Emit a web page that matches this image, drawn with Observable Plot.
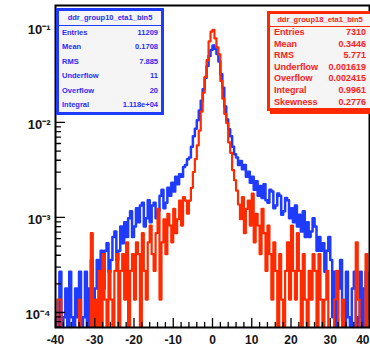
<!DOCTYPE html>
<html><head><meta charset="utf-8">
<script src="https://cdn.jsdelivr.net/npm/d3@7"></script>
<script src="https://cdn.jsdelivr.net/npm/@observablehq/plot@0.6"></script>
<style>
body{margin:0;overflow:hidden;background:#fff;}
#wrap{position:relative;width:370px;height:350px;overflow:hidden;font-family:"Liberation Sans",Arial,sans-serif;}
.stat{position:absolute;box-sizing:border-box;background:#f5f5f5;font-weight:bold;white-space:nowrap;overflow:hidden;}
.stat .ttl{text-align:center;overflow:hidden;}
.stat .row{display:flex;justify-content:space-between;}
</style></head><body><div id="wrap"></div><script>
// ---- data ----
const xLow = -40, binWidth = 0.5;           // histogram binning (160 bins, -40..40)
const blueEntries = 11209, redEntries = 7310;
// counts per 0.5-wide bin, left to right (two bins per unit from -40 to 39)
const blueCounts = [
 1,0, 3,0, 1,2, 0,3, 1,0, 2,1, 3,0, 1,3, 0,2, 4,1,
 2,4, 1,5, 2,5, 6,3, 4,7, 8,4, 5,9, 6,10, 7,11, 13,7,
 9,14, 10,15, 16,9, 11,17, 10,15, 16,11, 13,19, 22,14, 16,23, 19,26,
 21,30, 25,32, 30,38, 40,46, 48,62, 80,96, 118,150, 190,250, 330,440, 560,650,
 725,670, 590,490, 360,260, 165,120, 95,80, 62,52, 48,40, 44,36, 40,30, 34,26,
 30,22, 27,19, 24,18, 25,17, 16,22, 21,14, 15,20, 19,12, 13,18, 17,11,
 14,10, 15,9, 12,8, 13,7, 10,7, 8,11, 9,5, 7,5, 6,3, 5,7,
 4,1, 3,0, 2,4, 1,0, 3,1, 0,2, 3,0, 1,3, 0,2, 3,1
];
const redCounts = [
 0,1, 1,0, 0,0, 0,0, 0,0, 0,0, 1,0, 0,0, 0,0, 5,0,
 1,0, 2,0, 3,1, 0,2, 1,0, 2,3, 0,2, 3,1, 4,0, 2,3,
 1,4, 3,0, 5,2, 1,4, 6,3, 2,5, 9,1, 4,7, 3,8, 6,4,
 9,5, 7,11, 6,12, 11,8, 11,15, 22,30, 42,60, 95,150, 220,330, 520,660,
 690,560, 450,380, 200,130, 90,72, 45,35, 23,18, 14,10, 7,12, 5,9, 11,6,
 13,4, 8,6, 3,9, 5,2, 6,3, 1,4, 2,0, 3,1, 0,2, 4,1,
 6,2, 1,5, 2,0, 3,1, 0,2, 1,3, 2,0, 3,1, 0,1, 2,0,
 0,0, 1,2, 0,0, 1,0, 0,0, 0,0, 0,4, 1,0, 0,0, 3,0
];
const xTickValues = [-40,-30,-20,-10,0,10,20,30,40];
const xTickLabels = ["-40","-30","-20","-10","0","10","20","30","40"];
const yTickValues = [1e-4,1e-3,1e-2,1e-1];
const yTickLabels = ["10\u207B\u2074","10\u207B\u00B3","10\u207B\u00B2","10\u207B\u00B9"];
const blueTitle = "ddr_group10_eta1_bin5";
const blueStatLabels = ["Entries","Mean","RMS","Underflow","Overflow","Integral"];
const blueStatValues = ["11209","0.1708","7.885","11","20","1.118e+04"];
const redTitle = "ddr_group18_eta1_bin5";
const redStatLabels = ["Entries","Mean","RMS","Underflow","Overflow","Integral","Skewness"];
const redStatValues = ["7310","0.3446","5.771","0.001619","0.002415","0.9961","0.2776"];

// ---- chart ----
const blue = "#1f3bff", red = "#ff2a00";
const yDomain = [6.95e-5, 0.17];
const floorVal = 1e-5; // empty bins drop below the frame (clipped), as ROOT does
function steps(counts, n) {
  const pts = [];
  counts.forEach((c, i) => {
    const v = c > 0 ? c / n : floorVal;
    pts.push({x: xLow + i * binWidth, y: v});
    pts.push({x: xLow + (i + 1) * binWidth, y: v});
  });
  return pts;
}
const xMinor = d3.range(-40, 40.001, 2).filter(v => v % 10 !== 0);
const yMinor = [];
for (const d of [1e-5,1e-4,1e-3,1e-2]) for (let k = 2; k <= 9; k++) {
  const v = d * k; if (v >= yDomain[0] && v <= yDomain[1]) yMinor.push(v);
}
const tickUp = {draw(ctx, l) { ctx.moveTo(0, 0); ctx.lineTo(0, -l); }};
const xMin = xTickValues[0];
const xLab = xTickValues.map((v, i) => ({v, label: xTickLabels[i]}));
const yLab = yTickValues.map((v, i) => ({v, label: yTickLabels[i]}));

const chart = Plot.plot({
  width: 370, height: 350,
  marginLeft: 55, marginRight: 1, marginTop: 5, marginBottom: 23,
  style: {fontFamily: "Liberation Sans, Arial, sans-serif", fontWeight: "bold", color: "#151515", background: "white"},
  x: {domain: [-40, 40], axis: null},
  y: {type: "log", domain: yDomain, axis: null},
  marks: [
    Plot.line(steps(blueCounts, blueEntries), {x: "x", y: "y", stroke: blue, strokeWidth: 2.5, clip: true}),
    Plot.line(steps(redCounts, redEntries), {x: "x", y: "y", stroke: red, strokeWidth: 2.2, clip: true}),
    Plot.vector(xTickValues, {x: d => d, y: () => yDomain[0], length: 9, anchor: "start", shape: tickUp, stroke: "black", strokeWidth: 1.3}),
    Plot.vector(xMinor, {x: d => d, y: () => yDomain[0], length: 5, anchor: "start", shape: tickUp, stroke: "black", strokeWidth: 1.3}),
    Plot.vector(yTickValues, {x: () => xMin, y: d => d, length: 9, rotate: 90, anchor: "start", shape: tickUp, stroke: "black", strokeWidth: 1.3}),
    Plot.vector(yMinor, {x: () => xMin, y: d => d, length: 5, rotate: 90, anchor: "start", shape: tickUp, stroke: "black", strokeWidth: 1.3}),
    Plot.frame({stroke: "black", strokeWidth: 2}),
    Plot.text(xLab.slice(0, -1), {x: "v", y: () => yDomain[0], text: "label", dy: 13, fontSize: 12, fill: "#151515"}),
    Plot.text(xLab.slice(-1), {x: "v", y: () => yDomain[0], text: "label", dy: 13, fontSize: 12, textAnchor: "end", fill: "#151515"}),
    Plot.text(yLab, {x: () => xMin, y: "v", text: "label", dx: -5, dy: 2, textAnchor: "end", fontSize: 13, fill: "#151515"})
  ]
});
const wrap = document.getElementById("wrap");
wrap.appendChild(chart);

function statBox(cfg) {
  const box = document.createElement("div");
  box.className = "stat";
  Object.assign(box.style, {left: cfg.left + "px", top: cfg.top + "px", width: cfg.width + "px",
    border: "3px solid " + cfg.color, color: cfg.text, fontSize: cfg.font + "px", boxShadow: cfg.shadow || "none"});
  const t = document.createElement("div");
  t.className = "ttl";
  Object.assign(t.style, {height: cfg.titleH + "px", lineHeight: cfg.titleH + "px", fontSize: cfg.titleFont + "px",
    borderBottom: "1.5px solid " + cfg.color});
  t.textContent = cfg.title;
  box.appendChild(t);
  cfg.labels.forEach((lab, i) => {
    const r = document.createElement("div");
    r.className = "row";
    Object.assign(r.style, {lineHeight: cfg.rowH + "px", height: cfg.rowH + "px", padding: "0 " + cfg.pad + "px"});
    const a = document.createElement("span"); a.textContent = lab;
    const b = document.createElement("span"); b.textContent = cfg.values[i];
    r.appendChild(a); r.appendChild(b);
    box.appendChild(r);
  });
  wrap.appendChild(box);
}
statBox({left: 56, top: 8, width: 108, color: blue, text: "#2a2aff", font: 7.5, titleFont: 7.5, title: blueTitle,
  titleH: 14, rowH: 14.4, pad: 3, labels: blueStatLabels, values: blueStatValues});
statBox({left: 267, top: 11, width: 106, color: red, text: "#ff2020", font: 9, titleFont: 7.6, title: redTitle,
  titleH: 12, rowH: 11.6, pad: 4, labels: redStatLabels, values: redStatValues, shadow: "3px 3px 0 " + red});
</script></body></html>
